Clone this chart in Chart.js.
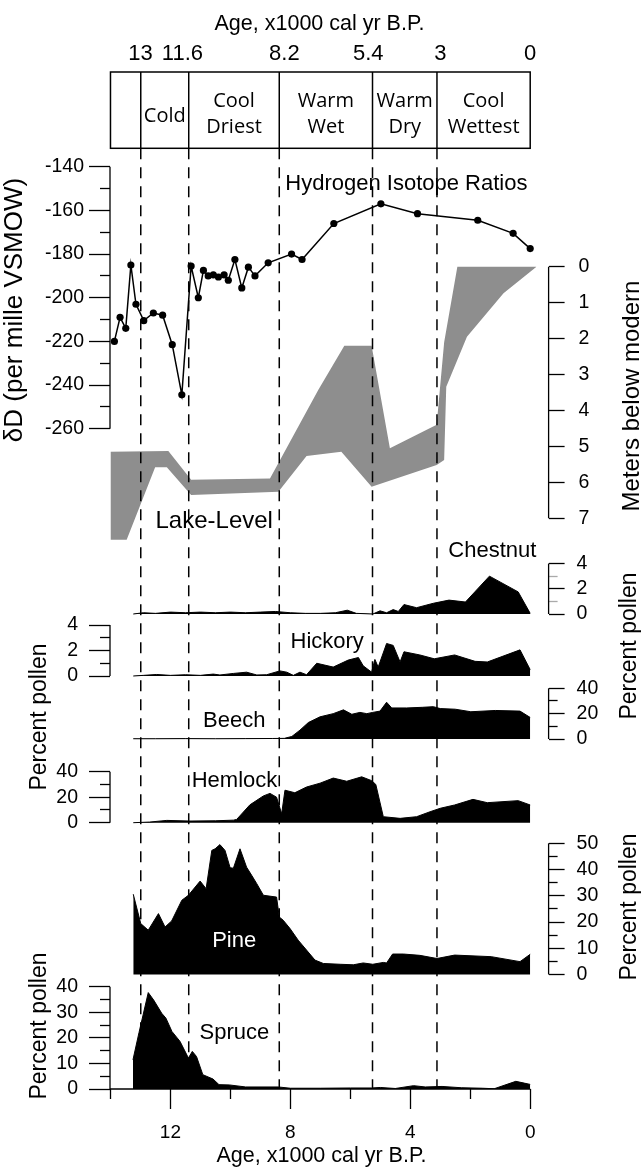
<!DOCTYPE html>
<html>
<head>
<meta charset="utf-8">
<script src="https://cdn.jsdelivr.net/npm/chart.js@4.4.1/dist/chart.umd.min.js"></script>
<style>
  html, body { margin: 0; padding: 0; background: #fff; }
  canvas { display: block; }
</style>
</head>
<body>
<canvas id="chart" width="642" height="1167"></canvas>
<script>
// ---- data (age in 1000 cal yr B.P.) ----
const isoAge = [13.87, 13.68, 13.49, 13.32, 13.15, 12.89, 12.57, 12.26, 11.94, 11.62, 11.31, 11.07, 10.9, 10.74, 10.57,
  10.4, 10.21, 10.07, 9.85, 9.62, 9.4, 9.18, 8.74, 7.96, 7.61, 6.55, 4.98, 3.76, 1.75, 0.57, 0.0];
const isoD = [-220, -209, -214, -185, -203, -210.5, -207, -208, -221.5, -244.5, -185.5, -200, -187.5, -190, -189.5,
  -190.5, -189.5, -192, -182.5, -195.5, -186, -190, -184, -180, -182.5, -166, -157, -161.5, -164.5, -170.5, -177.5];

const lakeTopAge = [14.0, 12.07, 11.31, 8.68, 7.07, 6.2, 5.29, 4.68, 3.12, 2.87, 2.43, -0.21];
const lakeTopDepth = [5.15, 5.13, 5.93, 5.89, 3.43, 2.2, 2.2, 5.05, 4.4, 2.1, 0, 0];
const lakeBottomAge = [14.0, 13.46, 12.51, 12.12, 11.31, 8.4, 7.46, 6.3, 5.29, 3.12, 2.87, 2.8, 2.11, 0.89, -0.21];
const lakeBottomDepth = [7.6, 7.6, 5.58, 5.58, 6.35, 6.26, 5.27, 5.15, 6.12, 5.52, 5.38, 3.34, 1.95, 0.74, 0];

const chestnutAge = [13.24, 12.9, 12.5, 12.0, 11.5, 11.0, 10.5, 10.0, 9.5, 9.0, 8.5, 8.0, 7.5, 7.0, 6.5, 6.1, 5.8, 5.25,
  5.01, 4.79, 4.57, 4.4, 4.21, 3.79, 3.23, 2.71, 2.16, 1.36, 0.4, 0.0];
const chestnutPct = [0, 0.1, 0.05, 0.15, 0.1, 0.15, 0.1, 0.15, 0.1, 0.15, 0.2, 0.1, 0.05, 0.05, 0.1, 0.3, 0.05, 0.0,
  0.25, 0.1, 0.35, 0.2, 0.75, 0.5, 0.85, 1.1, 0.95, 3.0, 1.75, 0.05];

const hickoryAge = [13.24, 12.9, 12.46, 12.0, 11.5, 11.0, 10.57, 10.35, 9.9, 9.46, 9.12, 8.79, 8.35, 8.12, 7.9, 7.68, 7.46,
  7.12, 6.57, 6.07, 5.73, 5.57, 5.29, 5.18, 5.07, 4.79, 4.57, 4.34, 4.21, 3.68, 3.2, 2.52, 1.84, 1.43, 0.34, 0.0];
const hickoryPct = [0, 0.05, 0.12, 0.05, 0.1, 0.05, 0.15, 0.08, 0.2, 0.3, 0.08, 0.1, 0.4, 0.3, 0.05, 0.3, 0.1,
  1.0, 0.7, 1.25, 1.45, 0.8, 0.3, 1.3, 0.7, 2.55, 2.4, 1.1, 1.9, 1.65, 1.35, 1.65, 1.15, 1.1, 2.05, 0.5];

const beechAge = [13.24, 12.5, 11.5, 10.5, 9.5, 8.6, 8.2, 7.95, 7.68, 7.4, 7.01, 6.57, 6.23, 5.95, 5.68, 5.45, 5.25, 5.01,
  4.79, 4.62, 4.12, 3.6, 3.23, 3.0, 2.5, 1.98, 1.16, 0.34, 0.0];
const beechPct = [0.2, 0.2, 0.3, 0.2, 0.3, 0.4, 0.5, 2, 7, 13, 17.5, 20, 23, 19.5, 21, 20, 21, 22,
  29, 24.5, 24.5, 25, 25.5, 24, 23.5, 21.5, 22.5, 22, 17];

const hemlockAge = [13.24, 12.7, 12.12, 11.35, 10.5, 9.9, 9.79, 9.35, 8.9, 8.68, 8.46, 8.29, 8.18, 7.85, 7.46, 7.01, 6.57,
  6.12, 5.62, 5.29, 5.15, 4.9, 4.34, 3.79, 3.34, 3.0, 2.52, 1.91, 1.43, 0.4, 0.0];
const hemlockPct = [0, 0.5, 1.8, 1.3, 1.5, 2, 2.6, 14, 21, 23, 20, 7, 25.5, 23.5, 28, 31, 35,
  32.5, 36, 33, 30, 4.7, 3.4, 4.7, 8.6, 11.3, 13.9, 18.3, 15.7, 17.3, 13.9];

const pineAge = [13.24, 12.99, 12.74, 12.4, 12.18, 11.96, 11.62, 11.4, 11.01, 10.81, 10.62, 10.51, 10.35, 10.18, 10.01,
  9.9, 9.68, 9.46, 9.29, 9.12, 8.9, 8.46, 8.37, 8.24, 8.01, 7.74, 7.46, 7.18, 6.9, 6.34, 5.9, 5.57, 5.25, 4.9, 4.79,
  4.59, 4.23, 3.68, 3.11, 2.52, 1.3, 0.34, 0.0];
const pinePct = [30.6, 19.4, 16.9, 23.2, 18.1, 20.4, 28.3, 30.2, 35.6, 32.7, 47.3, 47.9, 49.5, 47.3, 40.7,
  40.5, 47.9, 40.9, 37.8, 34.6, 30.2, 29.5, 21.9, 20.7, 17.5, 13.1, 9.3, 5.5, 4.2, 3.9, 3.7, 4.4, 3.9, 4.6, 4.4,
  7.8, 7.8, 7.3, 6.1, 7.4, 6.8, 4.9, 7.7];

const spruceAge = [13.25, 13.05, 12.74, 12.56, 12.29, 12.15, 11.95, 11.68, 11.4, 11.27, 11.13, 10.92, 10.58, 10.38, 10.04,
  9.49, 8.4, 8.0, 7.0, 6.0, 5.3, 5.0, 4.5, 3.89, 3.5, 2.94, 2.3, 1.6, 1.2, 0.48, 0.2, 0.0];
const sprucePct = [11.4, 22, 37.7, 34.8, 29.6, 27.7, 22.5, 18.6, 12.1, 14.7, 12.7, 5.6, 3.9, 1.7, 1.6,
  0.8, 0.8, 0.3, 0.3, 0.4, 0.4, 0.6, 0.2, 1.3, 0.8, 1.0, 0.5, 0.3, 0.1, 3.0, 2.3, 1.8];

// climate periods (boundaries as drawn) and the top tick labels
const periodEdges = [14, 12.99, 11.39, 8.37, 5.26, 3.11, 0];
const periodNames = [[], ['Cold'], ['Cool', 'Driest'], ['Warm', 'Wet'], ['Warm', 'Dry'], ['Cool', 'Wettest']];
const topTicks = [13, 11.6, 8.2, 5.4, 3, 0];
const ageTicks = [0, 4, 8, 12];
const ageMinorTicks = [2, 6, 10, 14];

const isoTicks = [-260, -240, -220, -200, -180, -160, -140];
const isoMinorTicks = [-250, -230, -210, -190, -170, -150];
const lakeTicks = [0, 1, 2, 3, 4, 5, 6, 7];
const smallTicks = [0, 2, 4];
const smallMinorTicks = [1, 3];
const fortyTicks = [0, 20, 40];
const fortyMinorTicks = [10, 30];
const pineTicks = [0, 10, 20, 30, 40, 50];
const pineMinorTicks = [5, 15, 25, 35, 45];
const spruceTicks = [0, 10, 20, 30, 40];
const spruceMinorTicks = [5, 15, 25, 35];

// ---- layout ----
const W = 642, H = 1167;
const FONT = "'Liberation Sans', Arial, sans-serif";
const AREA = {left: 110, right: 548.6, top: 72, bottom: 1089};
const AGE0_PX = 530.2, PX_PER_KY = 29.98;
const ageAt = px => (AGE0_PX - px) / PX_PER_KY;
const X_MIN = ageAt(AREA.right), X_MAX = ageAt(AREA.left);
const BOX_BOTTOM = 148.3;

// each panel: which pixel rows its value range occupies
const PANELS = [
  {id: 'yIso', side: 'left', lo: -260, hi: -140, pxLo: 428.7, pxHi: 166.75, major: isoTicks, minor: isoMinorTicks, pad: 5},
  {id: 'yLake', side: 'right', lo: 0, hi: 7, pxLo: 266.7, pxHi: 518.3, major: lakeTicks, minor: [], pad: 14},
  {id: 'yChestnut', side: 'right', lo: 0, hi: 4, pxLo: 614, pxHi: 563.5, major: smallTicks, minor: smallMinorTicks, pad: 12, minorColor: '#aaa'},
  {id: 'yHickory', side: 'left', lo: 0, hi: 4, pxLo: 676, pxHi: 625, major: smallTicks, minor: smallMinorTicks, pad: 11},
  {id: 'yBeech', side: 'right', lo: 0, hi: 40, pxLo: 739, pxHi: 688.3, major: fortyTicks, minor: fortyMinorTicks, pad: 12},
  {id: 'yHemlock', side: 'left', lo: 0, hi: 40, pxLo: 822.7, pxHi: 771.7, major: fortyTicks, minor: fortyMinorTicks, pad: 11},
  {id: 'yPine', side: 'right', lo: 0, hi: 50, pxLo: 974.5, pxHi: 843.3, major: pineTicks, minor: pineMinorTicks, pad: 12},
  {id: 'ySpruce', side: 'left', lo: 0, hi: 40, pxLo: 1089, pxHi: 986.7, major: spruceTicks, minor: spruceMinorTicks, pad: 11}
];

function band(p) {
  const f = px => p.lo + (px - p.pxLo) * (p.hi - p.lo) / (p.pxHi - p.pxLo);
  const vTop = f(AREA.top), vBot = f(AREA.bottom);
  return vTop > vBot ? {min: vBot, max: vTop, reverse: false} : {min: vTop, max: vBot, reverse: true};
}

function yAxis(p, values, minor) {
  const left = p.side === 'left';
  return Object.assign({
    type: 'linear', position: p.side, bounds: 'data',
    // zero-width boxes so all axes of one side sit on the plot edge; labels must not be clipped to the box
    afterFit: s => { s.width = 0; s._computeLabelArea = () => undefined; },
    afterBuildTicks: s => { s.ticks = values.map(v => ({value: v})); },
    grid: {
      drawOnChartArea: false, drawTicks: true,
      tickLength: minor ? (left ? 10 : 9) : (left ? 21 : 16),
      tickColor: minor && p.minorColor ? p.minorColor : '#000', tickWidth: 1.3
    },
    border: {display: false},
    ticks: {display: !minor, autoSkip: false, padding: p.pad, font: {size: 19.5}, color: '#000', callback: v => String(v)}
  }, band(p));
}

const scales = {
  x: {
    type: 'linear', position: 'bottom', weight: 0, min: X_MIN, max: X_MAX, reverse: true,
    afterFit: s => { s.height = 0; },
    afterBuildTicks: s => { s.ticks = ageMinorTicks.map(v => ({value: v})); },
    grid: {drawOnChartArea: false, tickLength: 10, tickColor: '#000', tickWidth: 1.3},
    border: {display: false}, ticks: {display: false}
  },
  xAge: {
    type: 'linear', position: 'bottom', weight: 1, min: X_MIN, max: X_MAX, reverse: true,
    afterFit: s => { s.height = H - AREA.bottom; },
    afterBuildTicks: s => { s.ticks = ageTicks.map(v => ({value: v})); },
    grid: {drawOnChartArea: false, tickLength: 20, tickColor: '#000', tickWidth: 1.3},
    border: {display: false},
    ticks: {autoSkip: false, maxRotation: 0, minRotation: 0, padding: 12, font: {size: 19}, color: '#000', callback: v => String(v)}
  },
  xTop: {
    type: 'linear', position: 'top', min: X_MIN, max: X_MAX, reverse: true,
    afterFit: s => { s.height = AREA.top; },
    afterBuildTicks: s => { s.ticks = topTicks.map(v => ({value: v})); },
    grid: {display: false, drawTicks: false},
    border: {display: false},
    ticks: {autoSkip: false, maxRotation: 0, minRotation: 0, padding: 5, font: {size: 22}, color: '#000', callback: v => String(v)}
  }
};
PANELS.forEach(p => {
  scales[p.id] = yAxis(p, p.major, false);
  if (p.minor.length) scales[p.id + 'Minor'] = yAxis(p, p.minor, true);
});

const pts = (xs, ys) => xs.map((x, i) => ({x: x, y: ys[i]}));

function area(ages, vals, axis) {
  return {
    data: pts(ages, vals), yAxisID: axis, fill: 'origin',
    backgroundColor: '#000', borderColor: '#000', borderWidth: 1, pointRadius: 0, tension: 0
  };
}

const datasets = [
  {data: pts(isoAge, isoD), yAxisID: 'yIso', borderColor: '#000', borderWidth: 1.5, fill: false,
   pointRadius: 3.6, pointBackgroundColor: '#000', pointBorderWidth: 0, tension: 0},
  {data: pts(lakeTopAge, lakeTopDepth), yAxisID: 'yLake', borderWidth: 0, pointRadius: 0, fill: false, tension: 0},
  {data: pts(lakeBottomAge, lakeBottomDepth), yAxisID: 'yLake', borderWidth: 0, pointRadius: 0,
   fill: '-1', backgroundColor: '#8e8e8e', tension: 0},
  area(chestnutAge, chestnutPct, 'yChestnut'),
  area(hickoryAge, hickoryPct, 'yHickory'),
  area(beechAge, beechPct, 'yBeech'),
  area(hemlockAge, hemlockPct, 'yHemlock'),
  area(pineAge, pinePct, 'yPine'),
  area(spruceAge, sprucePct, 'ySpruce')
];

const panelLabels = [
  ['Hydrogen Isotope Ratios', 406.4, 190, 22, '#000'],
  ['Lake-Level', 214.2, 528.3, 24, '#000'],
  ['Chestnut', 492.3, 557.3, 22, '#000'],
  ['Hickory', 327.2, 648.3, 22, '#000'],
  ['Beech', 234.2, 727.3, 22, '#000'],
  ['Hemlock', 234.5, 786.7, 22, '#000'],
  ['Pine', 234.2, 947.3, 22, '#fff'],
  ['Spruce', 234.4, 1039.3, 22, '#000']
];
const axisTitles = [
  ['\u03b4D (per mille VSMOW)', 15, 310, 26],
  ['Meters below modern', 632, 396, 24],
  ['Percent pollen', 629.5, 646, 23],
  ['Percent pollen', 40, 717, 23],
  ['Percent pollen', 629.5, 907, 23],
  ['Percent pollen', 40, 1026, 23]
];

function drawText(ctx, str, x, y, size, color, family, rotate, baseline) {
  ctx.save();
  ctx.font = size + 'px ' + (family || FONT);
  ctx.fillStyle = color || '#000';
  ctx.textAlign = 'center';
  ctx.textBaseline = baseline || 'alphabetic';
  ctx.translate(x, y);
  if (rotate) ctx.rotate(rotate);
  ctx.fillText(str, 0, 0);
  ctx.restore();
}

const overlay = {
  id: 'overlay',
  afterDraw(chart) {
    const ctx = chart.ctx, xs = chart.scales.x, a = chart.chartArea;
    const line = (x1, y1, x2, y2) => { ctx.beginPath(); ctx.moveTo(x1, y1); ctx.lineTo(x2, y2); ctx.stroke(); };
    const boxFont = "'Open Sans', sans-serif";
    ctx.save();
    ctx.strokeStyle = '#000';
    ctx.lineWidth = 1.3;
    // axis spines
    PANELS.forEach(p => {
      const s = chart.scales[p.id];
      const x = p.side === 'left' ? a.left : a.right;
      line(x, s.getPixelForValue(p.major[0]), x, s.getPixelForValue(p.major[p.major.length - 1]));
    });
    line(a.left, a.bottom, xs.getPixelForValue(0), a.bottom);

    // climate period box
    const bx0 = xs.getPixelForValue(periodEdges[0]);
    const bx1 = xs.getPixelForValue(periodEdges[periodEdges.length - 1]);
    ctx.lineWidth = 1.5;
    ctx.strokeRect(bx0, a.top, bx1 - bx0, BOX_BOTTOM - a.top);
    periodEdges.slice(1, -1).forEach(e => {
      const px = xs.getPixelForValue(e);
      line(px, a.top, px, BOX_BOTTOM);
    });
    periodNames.forEach((names, i) => {
      const cx = (xs.getPixelForValue(periodEdges[i]) + xs.getPixelForValue(periodEdges[i + 1])) / 2;
      if (names.length === 1) drawText(ctx, names[0], cx, 122, 20, '#000', boxFont);
      if (names.length === 2) {
        drawText(ctx, names[0], cx, 107.3, 20, '#000', boxFont);
        drawText(ctx, names[1], cx, 133.3, 20, '#000', boxFont);
      }
    });

    // dashed period boundaries
    ctx.setLineDash([11, 8]);
    ctx.lineWidth = 1.5;
    periodEdges.slice(1, -1).forEach(e => {
      const px = xs.getPixelForValue(e);
      line(px, BOX_BOTTOM, px, a.bottom);
    });
    ctx.setLineDash([]);

    panelLabels.forEach(t => drawText(ctx, t[0], t[1], t[2], t[3], t[4]));
    axisTitles.forEach(t => drawText(ctx, t[0], t[1], t[2], t[3], '#000', null, -Math.PI / 2, 'middle'));
    drawText(ctx, 'Age, x1000 cal yr B.P.', 319.5, 29.5, 21.5);
    drawText(ctx, 'Age, x1000 cal yr B.P.', 321.5, 1161.5, 21.5);
    ctx.restore();
  }
};

Chart.defaults.font.family = FONT;
Chart.defaults.color = '#000';

new Chart(document.getElementById('chart'), {
  type: 'line',
  data: {datasets: datasets},
  options: {
    responsive: false,
    animation: false,
    devicePixelRatio: 1,
    events: [],
    layout: {padding: {left: AREA.left, right: W - AREA.right, top: 0, bottom: 0}},
    plugins: {legend: {display: false}, tooltip: {enabled: false}},
    scales: scales
  },
  plugins: [overlay]
});
</script>
</body>
</html>
